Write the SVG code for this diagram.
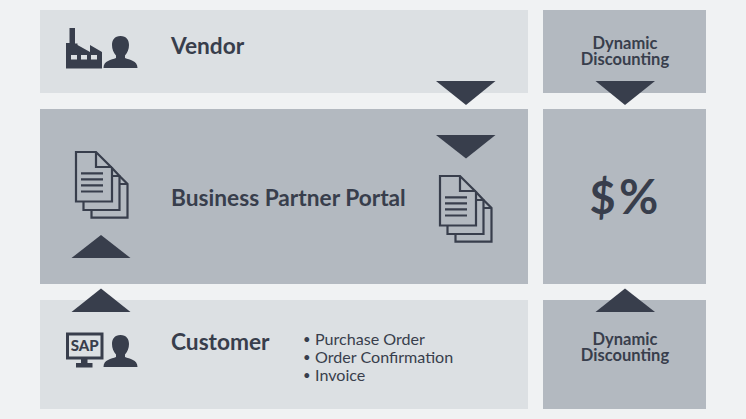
<svg xmlns="http://www.w3.org/2000/svg" width="746" height="419" viewBox="0 0 746 419">
<style>
.l{fill:#dce0e3}.m{fill:#b3b9c0}.d{fill:#383e4c}
text{font-family:Lato,"Open Sans",sans-serif;fill:#383e4c}
.t{font-size:22.700px;font-weight:700}
.s{font-size:16.500px;font-weight:700;text-anchor:middle}
.b{font-size:16.100px}
.u{font-size:13px}
.doc{fill:none;stroke:#383e4c;stroke-width:2.2}
</style>
<defs>
<g id="docs">
<path class="doc" d="M1 1H21L37 17V50.500H1Z M21 1V16H37"/>
<path class="doc" d="M37 17L44.500 25V59H8.500V50.500M37 25H44.500"/>
<path class="doc" d="M44.500 25L52.500 33V66.700H16.500V59M44.500 33H52.500"/>
<path class="doc" d="M6 22.300H28M6 28.300H28M6 34.300H28M6 40.500H28"/>
</g>
<path id="person" d="M17 0C11 0 8.500 4 8.500 9C8.500 13 10 17 12.500 19.500V22C8 24 0 24.500 0 32H34C34 24.500 26 24 21.500 22V19.500C24 17 25.500 13 25.500 9C25.500 4 23 0 17 0Z"/>
</defs>
<rect width="746" height="419" fill="#f0f2f3"/>
<g id="vendor">
<rect class="l" x="40" y="10" width="488" height="83"/>
<path class="d" fill-rule="evenodd" d="M66 68.500V43H69.500V28H75V43.500H77.500V45L90 52V45L102 52V68.500ZM71 55V59.500H77V55ZM81 55V59.500H87V55ZM91 55V59.500H97V55Z"/>
<use href="#person" class="d" x="103.500" y="36"/>
<text class="t" x="171" y="53.500">Vendor</text>
</g>
<g id="portal">
<rect class="m" x="40" y="109" width="488" height="175"/>
<use href="#docs" x="75" y="151"/>
<use href="#docs" x="439" y="175"/>
<text class="t" x="171" y="205.500">Business Partner Portal</text>
</g>
<g id="customer">
<rect class="l" x="40" y="300" width="488" height="109"/>
<path class="d" fill-rule="evenodd" d="M66 332.500H103.500V359.500H87.500V363H92.500V367.500H76V363H81V359.500H66ZM69 335.500V356.500H100.500V335.500Z"/>
<text x="84.700" y="351" font-size="15" font-weight="900" text-anchor="middle">SAP</text>
<use href="#person" class="d" x="103.500" y="335"/>
<text class="t" x="171" y="349.500">Customer</text>
<text class="u" x="303" y="344">•</text><text class="b" x="315" y="344.500">Purchase Order</text>
<text class="u" x="303" y="362">•</text><text class="b" x="315" y="362.500">Order Confirmation</text>
<text class="u" x="303" y="380">•</text><text class="b" x="315" y="380.500">Invoice</text>
</g>
<g id="dd-top">
<rect class="m" x="543" y="10" width="163" height="83"/>
<text class="s" x="625" y="48.500">Dynamic</text>
<text class="s" x="625" y="64.500">Discounting</text>
</g>
<g id="rates">
<rect class="m" x="543" y="109" width="163" height="175"/>
<text x="589.500" y="214" font-size="45" font-weight="700">$</text>
<text x="619" y="214" font-size="48" font-weight="700">%</text>
</g>
<g id="dd-bottom">
<rect class="m" x="543" y="300" width="163" height="109"/>
<text class="s" x="625" y="344.500">Dynamic</text>
<text class="s" x="625" y="360.500">Discounting</text>
</g>
<g id="connectors" class="d">
<path d="M436 81H495.500L466 105Z"/>
<path d="M436 135H495.500L466 158.500Z"/>
<path d="M595.500 81H655L625 105Z"/>
<path d="M71.500 258H130.500L101 235Z"/>
<path d="M71.500 312H130.500L101 288.500Z"/>
<path d="M595.500 312H655L625 288.500Z"/>
</g>
</svg>
